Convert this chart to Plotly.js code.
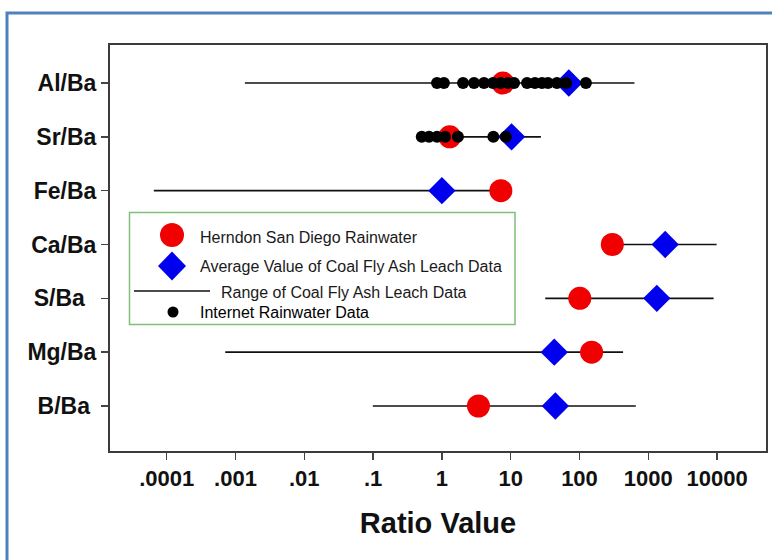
<!DOCTYPE html>
<html><head><meta charset="utf-8">
<script src="https://cdn.plot.ly/plotly-3.0.1.min.js"></script>
<style>html,body{margin:0;padding:0;background:#fff}</style>
</head><body><div id="chart" style="width:772px;height:560px"></div>
<script>
// ---- data ----
const categories = ["Al/Ba", "Sr/Ba", "Fe/Ba", "Ca/Ba", "S/Ba", "Mg/Ba", "B/Ba"];
const yTickLabels = ["Al/Ba", "Sr/Ba", "Fe/Ba", "Ca/Ba", "S/Ba\u2002", "Mg/Ba", "B/Ba\u00A0"];
const herndon = [7.7, 1.3, 7.2, 300, 101, 150, 3.4];
const flyAshAvg = [70, 10.3, 1.0, 1760, 1330, 43, 44.6];
const flyAshMin = [0.00137, 0.5, 0.000065, 300, 31.8, 0.00071, 0.099];
const flyAshMax = [630, 27.5, 7.2, 9840, 8900, 430, 658];
const internetAl = [0.85, 1.07, 2.03, 2.93, 4.09, 5.53, 7.2, 9.1, 11.2, 17.3, 22.5, 28.5, 34.8, 47, 64, 124];
const internetSr = [0.51, 0.65, 0.85, 1.11, 1.71, 5.6, 8.5];
const xTickVals = [1e-4, 1e-3, 1e-2, 0.1, 1, 10, 100, 1000, 10000];
const xTickLabels = [".0001", ".001", ".01", ".1", "1", "10", "100", "1000", "10000"];
const legendLabels = ["Herndon San Diego Rainwater", "Average Value of Coal Fly Ash Leach Data",
                      "Range of Coal Fly Ash Leach Data", "Internet Rainwater Data"];

// ---- traces ----
const rangeX = [], rangeY = [];
categories.forEach((c, i) => { rangeX.push(flyAshMin[i], flyAshMax[i], null); rangeY.push(c, c, null); });

const internetX = internetAl.concat(internetSr);
const internetY = internetAl.map(() => "Al/Ba").concat(internetSr.map(() => "Sr/Ba"));

const FONT = "Liberation Sans, Arial, sans-serif";
const RED = "#f00000", BLUE = "#0000ee";

const traces = [
  { type: "scatter", mode: "lines", x: rangeX, y: rangeY, line: { color: "#111", width: 1.7 }, hoverinfo: "skip", name: legendLabels[2] },
  { type: "scatter", mode: "markers", x: herndon, y: categories, marker: { symbol: "circle", size: 23, color: RED, line: { width: 0 } }, name: legendLabels[0] },
  { type: "scatter", mode: "markers", x: flyAshAvg, y: categories, marker: { symbol: "diamond", size: 21, color: BLUE, line: { width: 0 } }, name: legendLabels[1] },
  { type: "scatter", mode: "markers", x: internetX, y: internetY, marker: { symbol: "circle", size: 12, color: "#000", line: { width: 0 } }, name: legendLabels[3] }
];

// ---- custom legend (pixel positions converted to paper) ----
const P = { l: 110, r: 766, t: 45, b: 451 };
const fx = x => (x - P.l) / (P.r - P.l);
const fy = y => (P.b - y) / (P.b - P.t);

const shapes = [
  { type: "rect", xref: "paper", yref: "paper", x0: fx(7), x1: fx(800), y0: fy(600), y1: fy(13),
    line: { color: "#4f81bd", width: 3 }, fillcolor: "rgba(0,0,0,0)", layer: "below" },
  { type: "rect", xref: "paper", yref: "paper", x0: fx(129.5), x1: fx(515), y0: fy(324.5), y1: fy(212.5),
    line: { color: "#7fbf7a", width: 1.5 }, fillcolor: "#ffffff", layer: "above" },
  { type: "circle", xref: "paper", yref: "paper", x0: fx(160), x1: fx(184), y0: fy(247), y1: fy(223),
    line: { width: 0 }, fillcolor: RED, layer: "above" },
  { type: "path", xref: "paper", yref: "paper",
    path: `M${fx(158)},${fy(266)} L${fx(172)},${fy(251.5)} L${fx(186)},${fy(266)} L${fx(172)},${fy(280.5)} Z`,
    line: { width: 0 }, fillcolor: BLUE, layer: "above" },
  { type: "line", xref: "paper", yref: "paper", x0: fx(134), x1: fx(210), y0: fy(291), y1: fy(291),
    line: { color: "#111", width: 1.5 }, layer: "above" },
  { type: "circle", xref: "paper", yref: "paper", x0: fx(167.5), x1: fx(178.5), y0: fy(317.5), y1: fy(306.5),
    line: { width: 0 }, fillcolor: "#000", layer: "above" }
];

const legendText = [
  { x: 198, y: 237 }, { x: 197.5, y: 266 }, { x: 219, y: 292 }, { x: 197.5, y: 312 }
];
const annotations = legendLabels.map((t, i) => ({
  xref: "paper", yref: "paper", x: fx(legendText[i].x), y: fy(legendText[i].y),
  xanchor: "left", yanchor: "middle", showarrow: false, text: t,
  font: { family: FONT, size: 16, color: i === 3 ? "#000" : "#1a1a1a" }
}));

const layout = {
  width: 772, height: 560,
  margin: { l: P.l, r: 772 - P.r, t: P.t, b: 560 - P.b },
  paper_bgcolor: "#fff", plot_bgcolor: "#fff",
  showlegend: false,
  xaxis: {
    type: "log", range: [-4.824, 4.711],
    tickmode: "array", tickvals: xTickVals, ticktext: xTickLabels,
    ticks: "outside", ticklen: 7, tickwidth: 1.5, tickcolor: "#444",
    showgrid: false, zeroline: false,
    showline: true, mirror: true, linecolor: "#3c3c3c", linewidth: 2,
    tickfont: { family: FONT, size: 22, color: "#111", weight: 700 },
    ticklabelstandoff: 0,
    title: { text: "Ratio Value", font: { family: FONT, size: 29, color: "#111", weight: 700 }, standoff: 22 }
  },
  yaxis: {
    type: "category", categoryorder: "array", categoryarray: categories,
    range: [6.836, -0.706],
    tickmode: "array", tickvals: categories, ticktext: yTickLabels,
    ticks: "outside", ticklen: 7, tickwidth: 1.5, tickcolor: "#444",
    showgrid: false, zeroline: false,
    showline: true, mirror: true, linecolor: "#3c3c3c", linewidth: 2,
    tickfont: { family: FONT, size: 23, color: "#111", weight: 700 }
  },
  shapes: shapes,
  annotations: annotations
};

Plotly.newPlot("chart", traces, layout, { displayModeBar: false, staticPlot: true });
</script>
</body></html>
